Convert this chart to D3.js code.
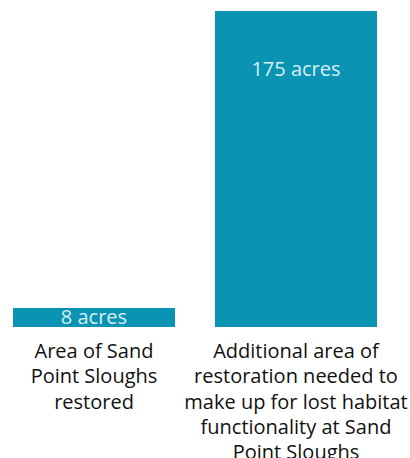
<!DOCTYPE html>
<html><head><meta charset="utf-8">
<script src="https://cdn.jsdelivr.net/npm/d3@7"></script>
<style>html,body{margin:0;padding:0;background:#fff;}</style>
</head><body>
<svg id="chart" width="410" height="458"></svg>
<script>
const categories = [
  ["Area of Sand", "Point Sloughs", "restored"],
  ["Additional area of", "restoration needed to", "make up for lost habitat", "functionality at Sand", "Point Sloughs"]
];
const values = [8, 175];
const valueLabels = ["8 acres", "175 acres"];

const svg = d3.select("#chart");
const font = "'Open Sans', sans-serif";
const x = d3.scaleBand().domain(d3.range(values.length)).range([13, 377]).paddingInner(0.198).paddingOuter(0);
const y = d3.scaleLinear().domain([-2.7, 175]).range([327, 11]);
const color = "#0b93b3";

svg.selectAll("rect.bar").data(values).join("rect")
  .attr("class","bar")
  .attr("x",(d,i)=>x(i)).attr("width",x.bandwidth())
  .attr("y",d=>y(d)).attr("height",d=>y(-2.7)-y(d))
  .attr("fill",color);

svg.selectAll("text.val").data(values).join("text")
  .attr("class","val")
  .attr("x",(d,i)=>x(i)+x.bandwidth()/2)
  .attr("y",(d,i)=> i===0 ? (y(d)+y(-2.7))/2 + 7 : y(d)+64.5)
  .attr("text-anchor","middle")
  .attr("font-family",font).attr("font-size",20)
  .attr("fill","#d6eff5")
  .text((d,i)=>valueLabels[i]);

categories.forEach((lines,i)=>{
  const t = svg.append("text")
    .attr("text-anchor","middle")
    .attr("font-family",font).attr("font-size",20)
    .attr("fill","#111");
  lines.forEach((ln,j)=>{
    t.append("tspan").attr("x",x(i)+x.bandwidth()/2).attr("y",358+j*25.3).text(ln);
  });
});
</script>
</body></html>
